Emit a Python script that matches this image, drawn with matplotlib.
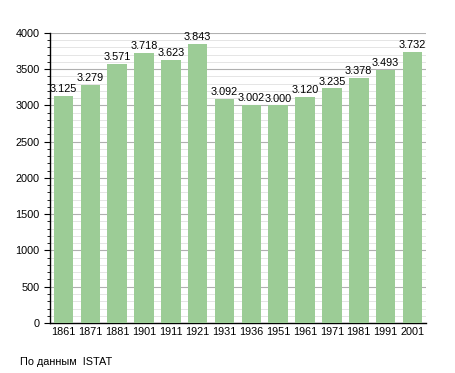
import matplotlib
matplotlib.use('Agg')
import matplotlib.pyplot as plt
from matplotlib.ticker import MultipleLocator

years = ['1861', '1871', '1881', '1901', '1911', '1921', '1931',
         '1936', '1951', '1961', '1971', '1981', '1991', '2001']
population = [3125, 3279, 3571, 3718, 3623, 3843, 3092,
              3002, 3000, 3120, 3235, 3378, 3493, 3732]

plt.rcParams['font.family'] = ['Liberation Sans', 'DejaVu Sans']

fig = plt.figure(figsize=(4.55, 3.73), dpi=100)
ax = fig.add_axes([0.110, 0.134, 0.826, 0.778])

x = range(len(years))
ax.bar(x, population, width=0.73, color='#9ccc96', zorder=3)

for xi, v in zip(x, population):
    lbl = f"{v / 1000:.3f}"
    ax.text(xi, v + 25, lbl, ha='center', va='bottom', fontsize=7.8, zorder=4)

ax.set_xlim(-0.5, len(years) - 0.5)
ax.set_ylim(0, 4000)
ax.yaxis.set_major_locator(MultipleLocator(500))
ax.yaxis.set_minor_locator(MultipleLocator(100))
ax.grid(axis='y', which='major', color='#b0b0b0', lw=0.8, zorder=0)
ax.grid(axis='y', which='minor', color='#e0e0e0', lw=0.6, zorder=0)

ax.set_xticks(list(x))
ax.set_xticklabels(years)
ax.tick_params(axis='x', length=0, labelsize=7.8, pad=3)
ax.tick_params(axis='y', which='major', length=4, labelsize=7.8)
ax.tick_params(axis='y', which='minor', length=2)
for s in ['top', 'right']:
    ax.spines[s].set_visible(False)
ax.spines['left'].set_linewidth(1.0)
ax.spines['bottom'].set_linewidth(1.0)

fig.text(20 / 455, 1 - 362 / 373, 'По данным  ISTAT', fontsize=7.8, va='center')

fig.savefig('out.png', dpi=100, facecolor='white')
